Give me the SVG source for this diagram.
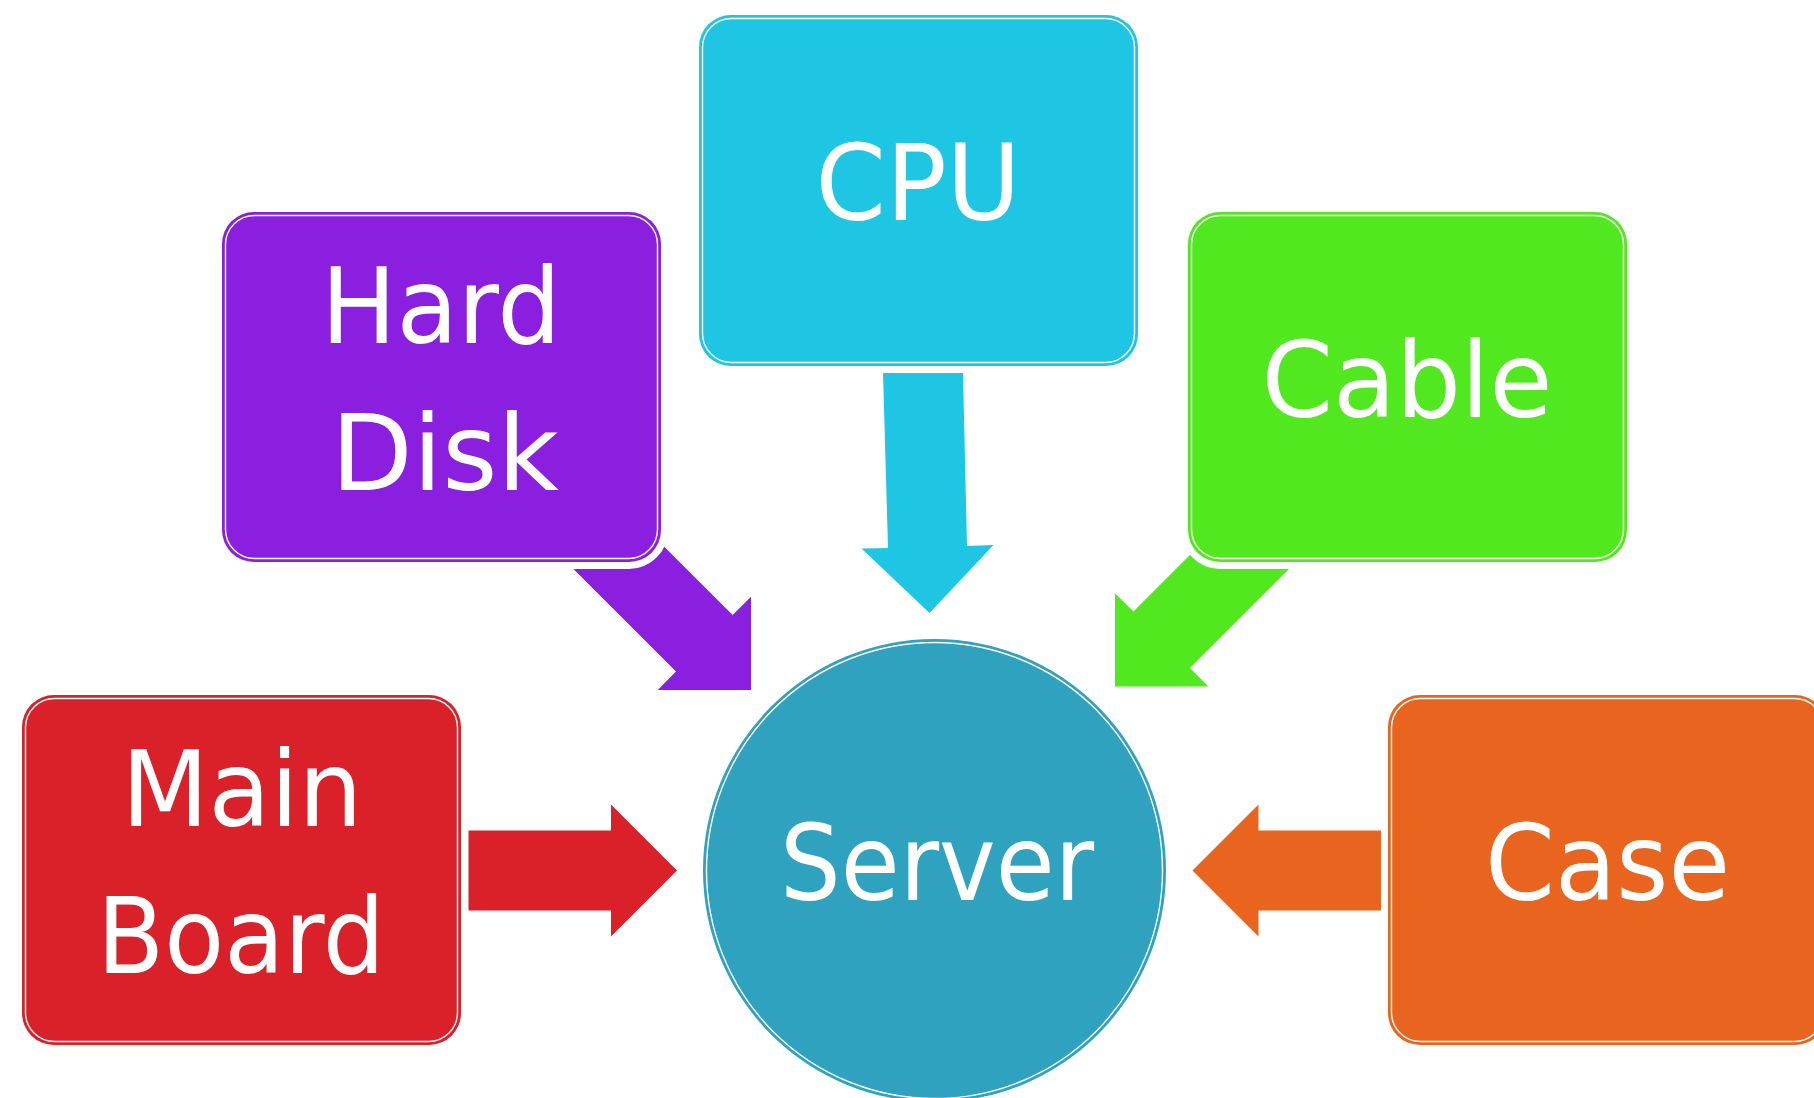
<svg xmlns="http://www.w3.org/2000/svg" width="1814" height="1098" viewBox="0 0 1814 1098">
<style>
.halo{fill:#fff;stroke:#fff;stroke-width:14}
.inner{fill:none;stroke:#fff;stroke-width:1.4}
.lbl{font-family:"DejaVu Sans","Liberation Sans",sans-serif;font-size:106px;fill:#fff;text-anchor:middle}
</style>
<rect width="1814" height="1098" fill="#fff"/>
<g id="connectors">
<polygon fill="#1EC6E4" points="883,372.5 963,372.5 967,546 993.5,545 929.5,613 861.5,548.5 888,548"/>
<polygon fill="#8A1FE0" points="569.9,565.5 626.5,508.9 732.6,615 751,596.7 751,690 657.7,690 676,671.6"/>
<polygon fill="#52E820" points="1296.1,562 1239.5,505.4 1133.4,611.5 1115,593.2 1115,686.5 1208.3,686.5 1190,668.1"/>
<polygon fill="#DA2029" points="468.5,830.5 611,830.5 611,804.5 677,870.5 611,936.5 611,910.5 468.5,910.5"/>
<polygon fill="#E9651F" points="1381.5,830.5 1258.5,830.5 1258.5,804.5 1192.5,870.5 1258.5,936.5 1258.5,910.5 1381.5,910.5"/>
</g>
<g id="cpu">
<rect class="halo" x="699" y="15" width="439" height="351" rx="32"/>
<rect x="699" y="15" width="439" height="351" rx="32" fill="#1EC6E4"/>
<rect class="inner" x="702.5" y="18.5" width="432" height="344" rx="29"/>
<text class="lbl" x="918" y="220" textLength="205" lengthAdjust="spacingAndGlyphs">CPU</text>
</g>
<g id="harddisk">
<rect class="halo" x="222" y="212" width="439" height="350" rx="32"/>
<rect x="222" y="212" width="439" height="350" rx="32" fill="#8A1FE0"/>
<rect class="inner" x="225.5" y="215.5" width="432" height="343" rx="29"/>
<text class="lbl" x="441" y="343" textLength="240" lengthAdjust="spacingAndGlyphs">Hard</text>
<text class="lbl" x="445" y="490" textLength="228" lengthAdjust="spacingAndGlyphs">Disk</text>
</g>
<g id="cable">
<rect class="halo" x="1188" y="212" width="439" height="350" rx="32"/>
<rect x="1188" y="212" width="439" height="350" rx="32" fill="#52E820"/>
<rect class="inner" x="1191.5" y="215.5" width="432" height="343" rx="29"/>
<text class="lbl" x="1407" y="417" textLength="291" lengthAdjust="spacingAndGlyphs">Cable</text>
</g>
<g id="mainboard">
<rect class="halo" x="22" y="695" width="439" height="350" rx="32"/>
<rect x="22" y="695" width="439" height="350" rx="32" fill="#DA2029"/>
<rect class="inner" x="25.5" y="698.5" width="432" height="343" rx="29"/>
<text class="lbl" x="242" y="826" textLength="241" lengthAdjust="spacingAndGlyphs">Main</text>
<text class="lbl" x="241" y="973" textLength="288" lengthAdjust="spacingAndGlyphs">Board</text>
</g>
<g id="case">
<rect class="halo" x="1388" y="695" width="439" height="350" rx="32"/>
<rect x="1388" y="695" width="439" height="350" rx="32" fill="#E9651F"/>
<rect class="inner" x="1391.5" y="698.5" width="432" height="343" rx="29"/>
<text class="lbl" x="1607.5" y="900" textLength="245" lengthAdjust="spacingAndGlyphs">Case</text>
</g>
<g id="server">
<circle cx="934.5" cy="870.5" r="231.5" fill="#2EA2BF"/>
<circle class="inner" cx="934.5" cy="870.5" r="228"/>
<text class="lbl" x="937" y="900" textLength="314" lengthAdjust="spacingAndGlyphs">Server</text>
</g>
</svg>
